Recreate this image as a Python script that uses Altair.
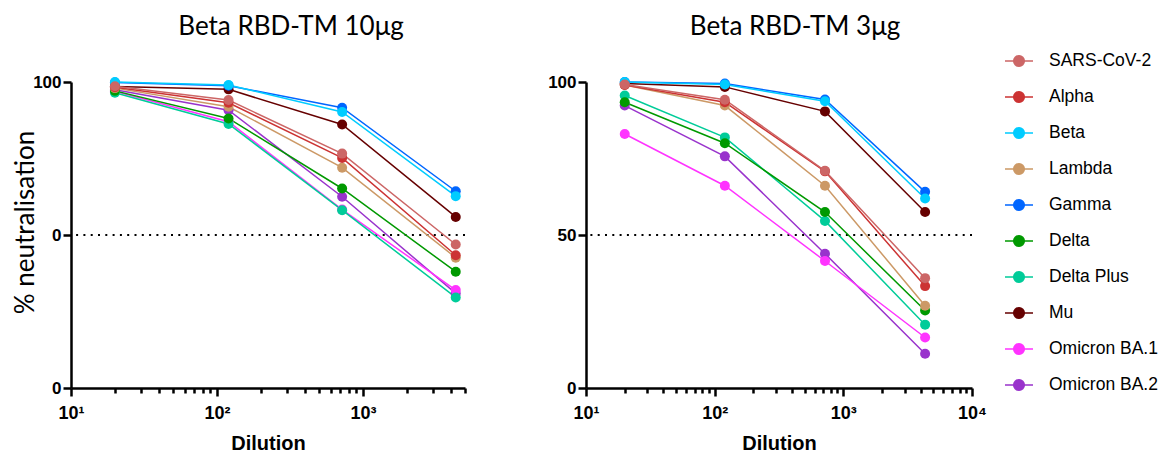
import altair as alt
import pandas as pd

variants = ["SARS-CoV-2", "Alpha", "Beta", "Lambda", "Gamma", "Delta",
            "Delta Plus", "Mu", "Omicron BA.1", "Omicron BA.2"]
colors = ["#cc6666", "#cc3333", "#00ccff", "#cc9966", "#0066ff", "#009900",
          "#00cc99", "#660000", "#ff33ff", "#9933cc"]
dilutions = [20, 120, 720, 4320]

# % neutralisation, Beta RBD-TM 10ug (read on the plotted 0-100 scale)
left_vals = {
    "SARS-CoV-2":   [98.6, 94.1, 76.6, 46.9],
    "Alpha":        [98.3, 93.2, 75.2, 43.4],
    "Beta":         [100.0, 99.0, 90.2, 62.7],
    "Lambda":       [98.0, 91.9, 72.0, 42.6],
    "Gamma":        [99.8, 98.8, 91.6, 64.3],
    "Delta":        [97.1, 88.1, 65.2, 38.0],
    "Delta Plus":   [96.5, 86.3, 58.1, 29.6],
    "Mu":           [98.5, 97.6, 86.1, 55.9],
    "Omicron BA.1": [97.0, 87.0, 58.3, 32.0],
    "Omicron BA.2": [97.5, 90.8, 62.5, 30.9],
}
# % neutralisation, Beta RBD-TM 3ug
right_vals = {
    "SARS-CoV-2":   [99.2, 94.2, 71.0, 35.9],
    "Alpha":        [99.0, 93.4, 70.8, 33.3],
    "Beta":         [100.0, 99.2, 93.7, 61.9],
    "Lambda":       [99.0, 92.3, 66.1, 26.9],
    "Gamma":        [100.0, 99.5, 94.3, 64.1],
    "Delta":        [93.4, 80.0, 57.5, 25.3],
    "Delta Plus":   [95.6, 81.9, 54.6, 20.7],
    "Mu":           [99.5, 98.4, 90.4, 57.5],
    "Omicron BA.1": [83.0, 66.1, 41.5, 16.5],
    "Omicron BA.2": [92.3, 75.7, 43.9, 11.2],
}
threshold = [50]
titles = ["Beta RBD-TM 10\u03bcg", "Beta RBD-TM 3\u03bcg"]


def to_df(vals):
    rows = []
    for v in reversed(variants):
        for d, y in zip(dilutions, vals[v]):
            rows.append({"variant": v, "dilution": d, "neut": y})
    return pd.DataFrame(rows)


def xticks(maxv):
    out = []
    dec = 10
    while dec < maxv:
        for m in range(1, 10):
            t = dec * m
            if t <= maxv:
                out.append(t)
        dec *= 10
    if maxv not in out:
        out.append(maxv)
    return out


LEG_SYM = ("M-1,0L1,0M-0.38,0A0.38,0.38 0 1 1 0.38,0"
           "A0.38,0.38 0 1 1 -0.38,0Z")

color_scale = alt.Scale(domain=variants, range=colors)


def panel(vals, title, xmax, ylabel_expr, ytitle, width, show_legend, tdx):
    df = to_df(vals)
    xaxis = alt.Axis(
        values=xticks(xmax),
        labelExpr=("datum.value == 10 ? '10\u00b9' : datum.value == 100 ? '10\u00b2' : "
                   "datum.value == 1000 ? '10\u00b3' : datum.value == 10000 ? '10\u2074' : ''"),
        tickSize={"condition": {"test": "datum.value == 10 || datum.value == 100 || "
                                        "datum.value == 1000 || datum.value == 10000",
                                "value": 8}, "value": 5},
        title="Dilution", labelPadding=8, labelFlush=False, labelOverlap=False,
        labelFontSize=18,
        titleFont="Liberation Sans", titleFontWeight="bold", titleFontSize=20,
        titlePadding=11,
    )
    x = alt.X("dilution:Q", scale=alt.Scale(type="log", domain=[10, xmax], nice=False),
              axis=xaxis)
    yaxis_kw = dict(values=[0, 50, 100], labelExpr=ylabel_expr, tickSize=8,
                    labelPadding=2, labelFontSize=17)
    if ytitle:
        yaxis_kw.update(title=ytitle, titleFont="Lato", titleFontWeight="normal",
                        titleFontSize=26, titleX=-38, titleY=140,
                        titleBaseline="alphabetic")
    else:
        yaxis_kw.update(title=None)
    y = alt.Y("neut:Q", scale=alt.Scale(domain=[0, 100], nice=False),
              axis=alt.Axis(**yaxis_kw))
    if show_legend:
        legend = alt.Legend(
            title=None, orient="none", legendX=933, legendY=-36,
            symbolType=LEG_SYM, symbolSize=784, symbolStrokeWidth=1.5,
            labelFont="Liberation Sans", labelFontSize=17.5, labelColor="black",
            rowPadding=12, labelOffset=15, symbolOpacity=1,
        )
        col = alt.Color("variant:N", scale=color_scale, legend=legend)
    else:
        col = alt.Color("variant:N", scale=color_scale, legend=None)
    base = alt.Chart(df)
    rule = alt.Chart(pd.DataFrame({"t": threshold})).mark_rule(
        color="black", strokeWidth=2, strokeDash=[2, 5.3]
    ).encode(y="t:Q")
    lines = base.mark_line(strokeWidth=1.5).encode(
        x=x, y=y, color=col, order="dilution:Q")
    pts = base.mark_circle(size=100, opacity=1).encode(x=x, y=y, color=col)
    return alt.layer(rule, lines, pts).properties(
        width=width, height=306,
        title=alt.TitleParams(title, font="Lato", fontSize=26, fontWeight="normal",
                              color="black", offset=33, dx=tdx),
    )


left = panel(left_vals, titles[0], 5000,
             "datum.value == 100 ? '100' : '0'", "% neutralisation", 394, True, 23)
right = panel(right_vals, titles[1], 10000, "datum.value + ''", None, 386, False, 16)

chart = alt.hconcat(left, right, spacing=80).resolve_scale(color="shared").properties(
    padding={"left": 3, "top": 6, "right": 0, "bottom": 0}
).configure_view(
    stroke=None
).configure_axis(
    grid=False, domainColor="black", domainWidth=2.5, tickColor="black", tickWidth=2.5,
    labelFont="Liberation Sans", labelFontWeight="bold",
    labelColor="black", titleColor="black",
).configure_title(anchor="middle")

chart.save("out.html", embed_options={"renderer": "svg", "actions": False})
